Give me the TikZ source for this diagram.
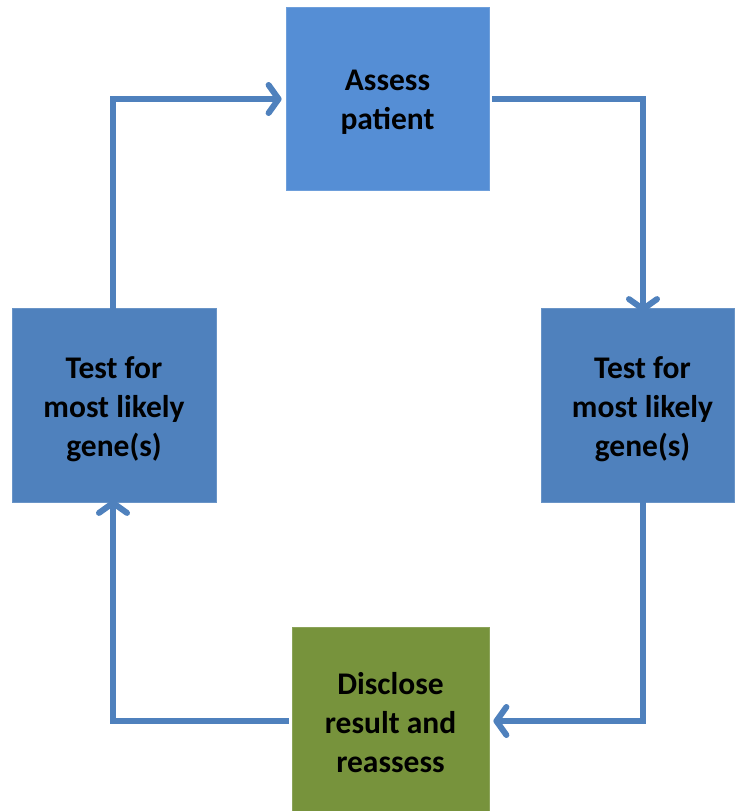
\documentclass[tikz,border=0pt]{standalone}
\usepackage{fontspec}
\setmainfont{Carlito}
\usetikzlibrary{arrows.meta}
\definecolor{topblue}{RGB}{85,142,213}
\definecolor{midblue}{RGB}{79,129,189}
\definecolor{olive}{RGB}{119,147,60}
\definecolor{arrowblue}{RGB}{79,129,189}
\tikzset{
  box/.style={draw=#1!85!white, line width=0.8pt, fill=#1, inner sep=0pt},
  txt/.style={align=center, inner sep=0pt, font=\fontsize{31.5}{39}\selectfont\bfseries, text=black, yshift=-4pt},
  conn/.style={draw=arrowblue, line width=6pt, line join=miter,
    -{Straight Barb[length=10pt, width=28pt, line width=6pt, line cap=round, round]}},
}
\begin{document}
\begin{tikzpicture}[x=1pt, y=-1pt]
\useasboundingbox (0,0) rectangle (734,811);
\node[box=topblue, minimum width=203pt, minimum height=183pt,
  label={[txt]center:Assess\\patient}] (assess) at (387.5,98.5) {};
\node[box=midblue, minimum width=204pt, minimum height=194pt,
  label={[txt]center:Test for\\most likely\\gene(s)}] (left) at (114,405.5) {};
\node[box=midblue, minimum width=193pt, minimum height=194pt,
  label={[txt, xshift=5pt]center:Test for\\most likely\\gene(s)}] (right) at (637.5,405.5) {};
\node[box=olive, minimum width=197pt, minimum height=184pt,
  label={[txt]center:Disclose\\result and\\reassess}] (disc) at (390.5,719) {};
\coordinate (c1) at (113,99);
\coordinate (c2) at (643,99);
\coordinate (c3) at (643,721);
\coordinate (c4) at (113,721);
\draw[conn] ([yshift=-1pt]left.north -| c1) -- (c1) -- ([xshift=-4pt]assess.west |- c1);
\draw[conn] ([xshift=3pt]assess.east |- c2) -- (c2) -- ([yshift=-4pt]right.north -| c2);
\draw[conn] ([yshift=3pt]right.south -| c3) -- (c3) -- ([xshift=4pt]disc.east |- c3);
\draw[conn] ([xshift=-3pt]disc.west |- c4) -- (c4) -- ([yshift=3pt]left.south -| c4);
\end{tikzpicture}
\end{document}
